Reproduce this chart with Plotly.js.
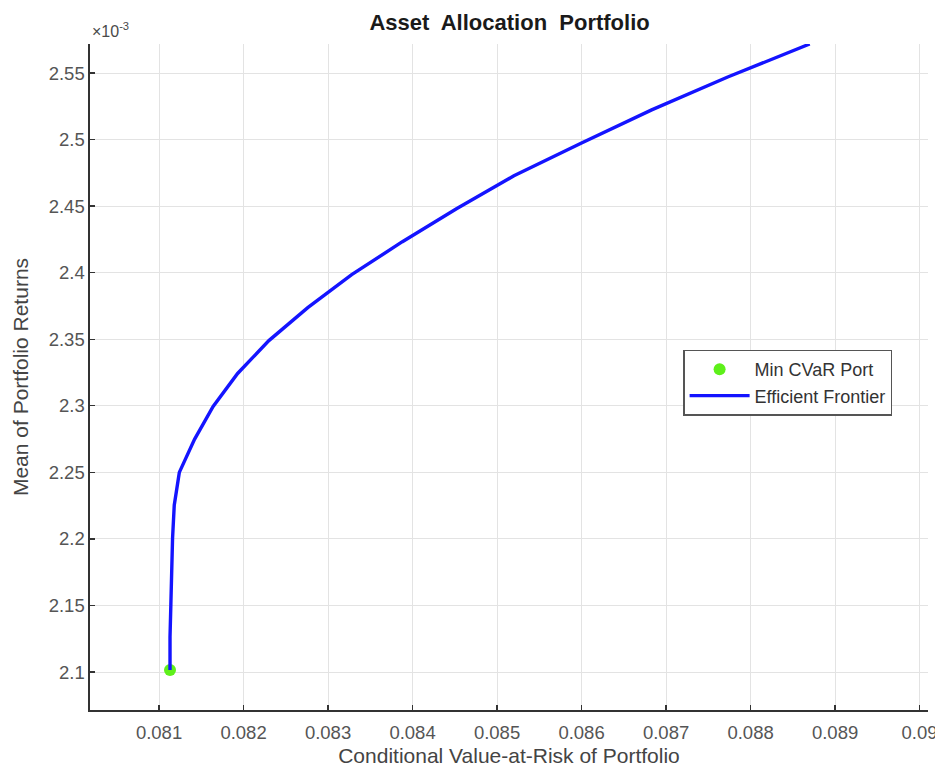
<!DOCTYPE html>
<html>
<head>
<meta charset="utf-8">
<script src="https://cdn.plot.ly/plotly-3.0.1.min.js"></script>
<style>
  html, body { margin: 0; padding: 0; background: #fff; }
  #chart { width: 935px; height: 769px; }
</style>
</head>
<body>
<div id="chart"></div>
<script>
// Efficient frontier: CVaR (x) against mean return (y, in units of 1e-3)
const frontierCVaR = [
  0.08113, 0.08113, 0.08114, 0.08115, 0.08116, 0.08118, 0.08124,
  0.08142, 0.08164, 0.08193, 0.08230, 0.08276, 0.08328, 0.08388,
  0.08452, 0.08520, 0.08600, 0.08683, 0.08773, 0.08870
];
const frontierMeanE3 = [
  2.1015, 2.1263, 2.1510, 2.1758, 2.2005, 2.2253, 2.2500,
  2.2748, 2.2995, 2.3243, 2.3490, 2.3738, 2.3985, 2.4233,
  2.4480, 2.4728, 2.4975, 2.5223, 2.5470, 2.5718
];

// Minimum-CVaR portfolio
const minCVaR = [0.08113];
const minCVaRMeanE3 = [2.1015];

// Tick labels
const xTicks = [0.081, 0.082, 0.083, 0.084, 0.085, 0.086, 0.087, 0.088, 0.089, 0.090];
const xTickText = ['0.081', '0.082', '0.083', '0.084', '0.085', '0.086', '0.087', '0.088', '0.089', '0.09'];
const yTicks = [2.1, 2.15, 2.2, 2.25, 2.3, 2.35, 2.4, 2.45, 2.5, 2.55];
const yTickText = ['2.1', '2.15', '2.2', '2.25', '2.3', '2.35', '2.4', '2.45', '2.5', '2.55'];

const FONT = 'Liberation Sans, Arial, sans-serif';

const traces = [
  {
    x: minCVaR, y: minCVaRMeanE3,
    type: 'scatter', mode: 'markers',
    name: 'Min CVaR Port',
    marker: { color: '#5ef01a', size: 12 },
    cliponaxis: false
  },
  {
    x: frontierCVaR, y: frontierMeanE3,
    type: 'scatter', mode: 'lines',
    name: 'Efficient Frontier',
    line: { color: '#1414ff', width: 3.4 },
    cliponaxis: false
  }
];

const axisCommon = {
  showgrid: true,
  gridcolor: '#e3e3e3',
  gridwidth: 1,
  zeroline: false,
  showline: true,
  linecolor: '#333333',
  linewidth: 1.6,
  ticks: 'inside',
  ticklen: 5,
  tickwidth: 1.3,
  tickcolor: '#333333',
  tickfont: { family: FONT, size: 18.5, color: '#555555' },
  ticklabeloverflow: 'allow',
  mirror: false
};

const layout = {
  width: 935,
  height: 769,
  paper_bgcolor: '#ffffff',
  plot_bgcolor: '#ffffff',
  margin: { l: 90, r: 7, t: 44, b: 59 },
  title: {
    text: '<b>Asset  Allocation  Portfolio</b>',
    font: { family: FONT, size: 22, color: '#1a1a1a' },
    x: 0.545, xanchor: 'center',
    y: 0.971, yanchor: 'middle'
  },
  xaxis: Object.assign({}, axisCommon, {
    range: [0.080183, 0.0901],
    tickmode: 'array',
    tickvals: xTicks,
    ticktext: xTickText,
    ticklabelstandoff: 5,
    title: {
      text: 'Conditional Value-at-Risk of Portfolio',
      font: { family: FONT, size: 21, color: '#444444' },
      standoff: 6
    }
  }),
  yaxis: Object.assign({}, axisCommon, {
    range: [2.0715, 2.5718],
    tickmode: 'array',
    tickvals: yTicks,
    ticktext: yTickText,
    title: {
      text: 'Mean of Portfolio Returns',
      font: { family: FONT, size: 21, color: '#444444' },
      standoff: 14
    }
  }),
  showlegend: true,
  legend: {
    x: 0.708, y: 0.541,
    xanchor: 'left', yanchor: 'top',
    bgcolor: '#ffffff',
    bordercolor: '#555555',
    borderwidth: 1.3,
    font: { family: FONT, size: 18, color: '#333333' },
    tracegroupgap: 0,
    itemwidth: 60
  },
  annotations: [
    {
      text: '×10<sup>-3</sup>',
      xref: 'paper', yref: 'paper',
      x: 0.0, y: 1.0,
      xanchor: 'left', yanchor: 'bottom',
      yshift: 2,
      showarrow: false,
      font: { family: FONT, size: 16, color: '#4a4a4a' }
    }
  ]
};

Plotly.newPlot('chart', traces, layout, { displayModeBar: false, staticPlot: true });
</script>
</body>
</html>
